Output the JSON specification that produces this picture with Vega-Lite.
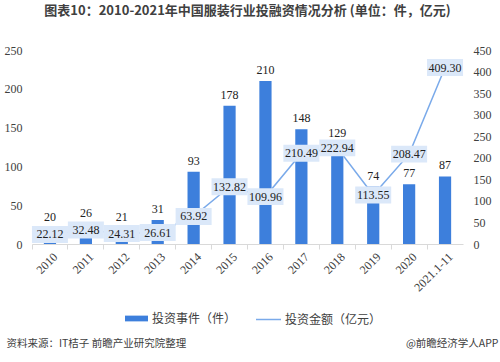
{
  "$schema": "https://vega.github.io/schema/vega-lite/v6.json",
  "width": 431,
  "height": 194,
  "autosize": {"type": "none"},
  "padding": {"left": 32, "top": 50, "right": 37, "bottom": 118},
  "background": "white",
  "title": {
    "text": "图表10：2010-2021年中国服装行业投融资情况分析 (单位：件，亿元)",
    "font": "Noto Sans CJK SC",
    "fontSize": 13,
    "fontWeight": "bold",
    "color": "#404040",
    "anchor": "middle",
    "offset": 26
  },
  "config": {
    "view": {"stroke": null},
    "axis": {"grid": false}
  },
  "data": {
    "values": [
      {"year": "2010", "events": 20, "amount": 22.12},
      {"year": "2011", "events": 26, "amount": 32.48},
      {"year": "2012", "events": 21, "amount": 24.31},
      {"year": "2013", "events": 31, "amount": 26.61},
      {"year": "2014", "events": 93, "amount": 63.92},
      {"year": "2015", "events": 178, "amount": 132.82},
      {"year": "2016", "events": 210, "amount": 109.96},
      {"year": "2017", "events": 148, "amount": 210.49},
      {"year": "2018", "events": 129, "amount": 222.94},
      {"year": "2019", "events": 74, "amount": 113.55},
      {"year": "2020", "events": 77, "amount": 208.47},
      {"year": "2021.1-11", "events": 87, "amount": 409.3}
    ]
  },
  "encoding": {
    "x": {
      "field": "year",
      "type": "ordinal",
      "sort": null,
      "scale": {"paddingInner": 0, "paddingOuter": 0},
      "axis": {
        "title": "资料来源：IT桔子 前瞻产业研究院整理",
        "titleFont": "Noto Sans CJK SC",
        "titleFontSize": 10.5,
        "titleFontWeight": "normal",
        "titleColor": "#404040",
        "titleAlign": "left",
        "titleAnchor": null,
        "titleBaseline": "middle",
        "titleX": -26,
        "titleY": 99,
        "labelAngle": -45,
        "labelFont": "Liberation Serif",
        "labelFontSize": 12,
        "labelColor": "#404040",
        "labelOverlap": false,
        "bandPosition": 0,
        "labelOffset": 2,
        "labelPadding": 2,
        "tickColor": "#d9d9d9",
        "tickSize": 5,
        "domainColor": "#d9d9d9"
      }
    }
  },
  "layer": [
    {
      "encoding": {
        "y": {
          "field": "events",
          "type": "quantitative",
          "scale": {"domain": [0, 250], "nice": false},
          "axis": {
            "orient": "left",
            "title": null,
            "values": [0, 50, 100, 150, 200, 250],
            "labelOverlap": false,
            "domain": false,
            "ticks": false,
            "labelPadding": 10,
            "labelFont": "Liberation Serif",
            "labelFontSize": 12,
            "labelColor": "#404040"
          }
        }
      },
      "layer": [
        {
          "mark": {"type": "bar", "width": {"band": 0.34}},
          "encoding": {
            "fill": {
              "datum": "投资事件（件）",
              "scale": {"range": ["#3d7fdc"]},
              "legend": {
                "orient": "none",
                "legendX": 92,
                "legendY": 256,
                "title": null,
                "symbolType": "M-1,-0.25H1V0.25H-1Z",
                "symbolSize": 529,
                "symbolOpacity": 1,
                "labelFont": "Noto Sans CJK SC",
                "labelFontSize": 12,
                "labelColor": "#404040",
                "labelOffset": 3
              }
            }
          }
        },
        {
          "mark": {"type": "text", "font": "Liberation Serif", "fontSize": 12, "color": "#222222", "baseline": "middle", "dy": -11},
          "encoding": {
            "text": {"field": "events", "type": "quantitative"}
          }
        }
      ]
    },
    {
      "encoding": {
        "y": {
          "field": "amount",
          "type": "quantitative",
          "scale": {"domain": [0, 450], "nice": false},
          "axis": {
            "orient": "right",
            "values": [0, 50, 100, 150, 200, 250, 300, 350, 400, 450],
            "labelOverlap": false,
            "domain": false,
            "ticks": false,
            "labelPadding": 10,
            "labelFont": "Liberation Serif",
            "labelFontSize": 12,
            "labelColor": "#404040",
            "title": "@前瞻经济学人APP",
            "titleAngle": 0,
            "titleFont": "Noto Sans CJK SC",
            "titleFontSize": 10.5,
            "titleFontWeight": "normal",
            "titleColor": "#404040",
            "titleAlign": "right",
            "titleBaseline": "middle",
            "titleX": 35,
            "titleY": 293
          }
        }
      },
      "layer": [
        {
          "mark": {"type": "line", "strokeWidth": 1.5},
          "encoding": {
            "stroke": {
              "datum": "投资金额（亿元）",
              "scale": {"range": ["#7aaaea"]},
              "legend": {
                "orient": "none",
                "legendX": 223,
                "legendY": 256,
                "title": null,
                "symbolType": "stroke",
                "symbolSize": 625,
                "symbolStrokeWidth": 1.5,
                "labelFont": "Noto Sans CJK SC",
                "labelFontSize": 12,
                "labelColor": "#404040",
                "labelOffset": 3
              }
            }
          }
        },
        {
          "mark": {"type": "point", "shape": "M-1,-0.47H1V0.47H-1Z", "size": 1296, "filled": true, "fill": "#dbe8f9", "opacity": 1, "strokeWidth": 0},
          "encoding": {}
        },
        {
          "mark": {"type": "text", "font": "Liberation Serif", "fontSize": 12, "color": "#222222", "baseline": "middle"},
          "encoding": {
            "text": {"field": "amount", "type": "quantitative", "format": ".2f"}
          }
        }
      ]
    }
  ],
  "resolve": {"scale": {"y": "independent"}}
}
